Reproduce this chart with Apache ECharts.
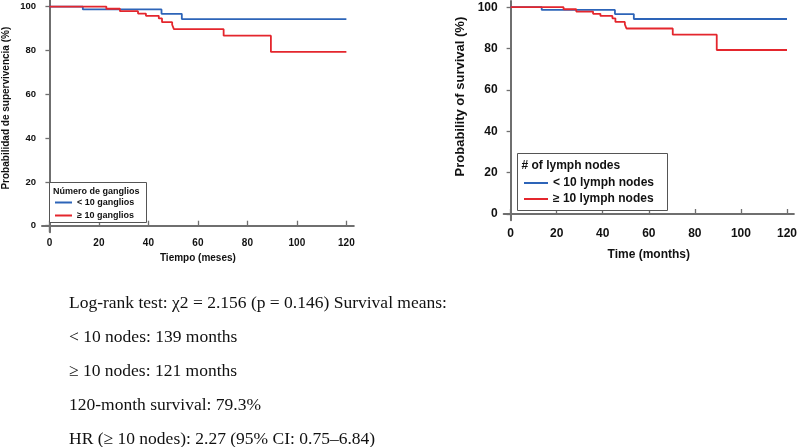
<!DOCTYPE html>
<html>
<head>
<meta charset="utf-8">
<script src="https://cdn.jsdelivr.net/npm/echarts@6/dist/echarts.min.js"></script>
<style>
html,body{margin:0;padding:0;background:#fff;}
#c{width:800px;height:447px;}
</style>
</head>
<body>
<div id="c"></div>
<script>
// Kaplan-Meier step data (time in months, survival in %)
var lowTimes = [0, 13.5, 45.3, 53.5, 120];
var lowSurv = [100, 98.7, 96.7, 94.3, 94.3];
var highTimes = [0, 23, 28.5, 35.8, 39, 44.2, 45.5, 49.6, 50.3, 70.4, 89.5, 120];
var highSurv = [100, 99.0, 97.9, 96.8, 95.8, 94.6, 92.9, 91.7, 89.7, 86.7, 79.3, 79.3];
var xTicks = [0, 20, 40, 60, 80, 100, 120];
var yTicks = [0, 20, 40, 60, 80, 100];
var namesES = ['< 10 ganglios', '≥ 10 ganglios'];
var namesEN = ['< 10 lymph nodes', '≥ 10 lymph nodes'];
var textLines = [
  'Log-rank test: χ2 = 2.156 (p = 0.146) Survival means:',
  '< 10 nodes: 139 months',
  '≥ 10 nodes: 121 months',
  '120-month survival: 79.3%',
  'HR (≥ 10 nodes): 2.27 (95% CI: 0.75–6.84)'
];

function pairs(t, s) { return t.map(function (v, i) { return [v, s[i]]; }); }

var BLUE = '#2d64b8', RED = '#e4262d', AX = '#6f6f6f';
var F = 'Liberation Sans, Arial, sans-serif';

function xAxisCfg(gi, fs, margin, name, nameFs, nameGap) {
  return {
    gridIndex: gi, type: 'value', min: -3, max: 123,
    name: name, nameLocation: 'middle', nameGap: nameGap,
    nameTextStyle: { fontFamily: F, fontWeight: 'bold', fontSize: nameFs, color: '#111' },
    axisLine: { lineStyle: { color: AX, width: 2 } },
    axisTick: { inside: true, length: 5, customValues: xTicks, lineStyle: { color: AX, width: 1.3 } },
    axisLabel: { customValues: xTicks, margin: margin, fontFamily: F, fontWeight: 'bold', fontSize: fs, color: '#111' },
    splitLine: { show: false }
  };
}
function yAxisCfg(gi, fs, margin, name, nameFs, nameGap, pad) {
  return {
    gridIndex: gi, type: 'value', min: -3, max: 103,
    name: name, nameLocation: 'middle', nameGap: nameGap,
    nameTextStyle: { fontFamily: F, fontWeight: 'bold', fontSize: nameFs, color: '#111', padding: [0, 0, 0, pad] },
    axisLine: { show: true, lineStyle: { color: AX, width: 2 } },
    axisTick: { show: true, inside: false, length: 4, customValues: yTicks, lineStyle: { color: AX, width: 1.3 } },
    axisLabel: { customValues: yTicks, margin: margin, fontFamily: F, fontWeight: 'bold', fontSize: fs, color: '#111' },
    splitLine: { show: false }
  };
}
function km(name, gi, t, s, color) {
  return {
    name: name, type: 'line', xAxisIndex: gi, yAxisIndex: gi, step: 'end',
    data: pairs(t, s), showSymbol: false, symbol: 'none',
    lineStyle: { color: color, width: 1.8 }, itemStyle: { color: color }, animation: false
  };
}
function corner(gi) {
  return {
    type: 'line', xAxisIndex: gi, yAxisIndex: gi, silent: true, symbol: 'none',
    data: [[-3, 0], [0, 0], [0, -3]],
    lineStyle: { color: AX, width: 1.3 }, animation: false
  };
}

var graphics = [
  { type: 'rect', shape: { x: 49.5, y: 182.5, width: 97, height: 40 }, style: { fill: '#fff', stroke: '#555', lineWidth: 1 }, z: 1 },
  { type: 'text', x: 53, y: 192, style: { text: 'Número de ganglios', font: 'bold 9px ' + F, fill: '#111', verticalAlign: 'middle' }, z: 2 },
  { type: 'rect', shape: { x: 517.5, y: 153.5, width: 150, height: 57 }, style: { fill: '#fff', stroke: '#555', lineWidth: 1 }, z: 1 },
  { type: 'text', x: 521.5, y: 166, style: { text: '# of lymph nodes', font: 'bold 12px ' + F, fill: '#111', verticalAlign: 'middle' }, z: 2 }
];
var lineY = [303.5, 337.5, 371.5, 405.5, 439.5];
textLines.forEach(function (t, i) {
  graphics.push({ type: 'text', x: 69, y: lineY[i], style: { text: t, font: '17.5px "Liberation Serif", "Times New Roman", serif', fill: '#111', verticalAlign: 'middle' } });
});

var chart = echarts.init(document.getElementById('c'), null, { renderer: 'canvas' });
chart.setOption({
  animation: false,
  backgroundColor: '#fff',
  grid: [
    { left: 40.8, top: 0, width: 313, height: 232.3 },
    { left: 503.7, top: 1, width: 293.2, height: 219.2 }
  ],
  xAxis: [
    xAxisCfg(0, 10, 6, 'Tiempo (meses)', 10, 21),
    xAxisCfg(1, 12, 7, 'Time (months)', 12, 28)
  ],
  yAxis: [
    yAxisCfg(0, 9.5, 6, 'Probabilidad de supervivencia (%)', 10, 31, 16),
    yAxisCfg(1, 12, 6, 'Probability of survival (%)', 13, 37, 28)
  ],
  legend: [
    {
      data: namesES, orient: 'vertical', left: 55, top: 197.5, padding: 0, itemGap: 3,
      icon: 'rect', itemWidth: 17, itemHeight: 2, selectedMode: false, z: 5,
      textStyle: { fontFamily: F, fontWeight: 'bold', fontSize: 9, color: '#111', lineHeight: 10 }
    },
    {
      data: namesEN, orient: 'vertical', left: 524, top: 176.5, padding: 0, itemGap: 3,
      icon: 'rect', itemWidth: 24, itemHeight: 2, selectedMode: false, z: 5,
      textStyle: { fontFamily: F, fontWeight: 'bold', fontSize: 12, color: '#111', lineHeight: 13 }
    }
  ],
  graphic: graphics,
  series: [
    km(namesES[0], 0, lowTimes, lowSurv, BLUE),
    km(namesES[1], 0, highTimes, highSurv, RED),
    corner(0),
    km(namesEN[0], 1, lowTimes, lowSurv, BLUE),
    km(namesEN[1], 1, highTimes, highSurv, RED),
    corner(1)
  ]
});
</script>
</body>
</html>
